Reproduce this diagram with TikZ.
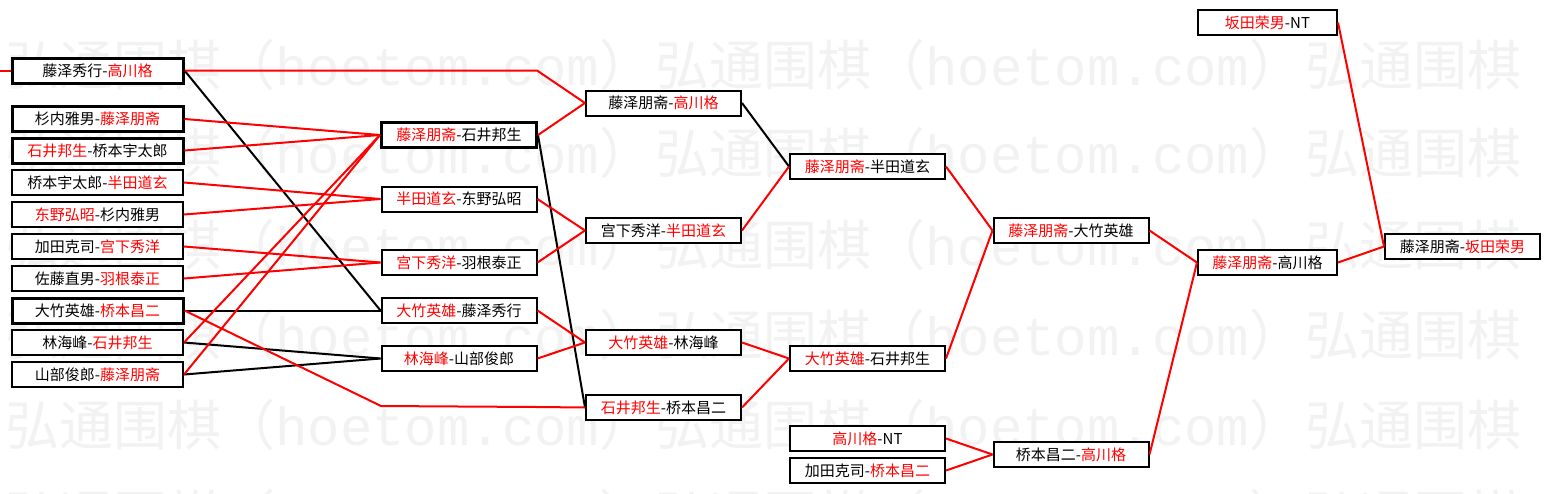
\documentclass[tikz,border=0pt]{standalone}
\usepackage{fontspec}
\setmainfont{Noto Sans CJK SC}
\newfontfamily\wmmono{Liberation Mono}
\newcommand{\rd}[1]{\textcolor{red}{#1}}
\begin{document}
\begin{tikzpicture}[x=1pt,y=-1pt,
  box/.style={draw=black,line width=2pt,fill=white,inner sep=0pt,minimum height=25pt,
    font=\fontsize{15}{15}\selectfont,text=black},
  thick box/.style={box,line width=3pt},
  w1/.style={minimum width=171pt},
  w2/.style={minimum width=155pt},
  w6/.style={minimum width=139pt},
  rl/.style={draw=red,line width=2pt},
  bl/.style={draw=black,line width=2pt},
  wm/.style={text=black!5,font=\fontsize{54}{54}\selectfont,anchor=west,inner sep=0pt}]
\useasboundingbox (0,0) rectangle (1550,493);
\fill[white] (0,0) rectangle (1550,493);
% watermark
\foreach \yy in {65,153,245,335,425,515}{
  \foreach \xx in {5,655,1305}{
    \node[wm] at (\xx,\yy) {弘通围棋（{\wmmono hoetom.com}）};
  }
}
% column 1
\node[thick box,w1] (c1a) at (97.5,70.5) {藤泽秀行-\rd{高川格}};
\node[thick box,w1] (c1b) at (97.5,119) {杉内雅男-\rd{藤泽朋斋}};
\node[thick box,w1] (c1c) at (97.5,150.5) {\rd{石井邦生}-桥本宇太郎};
\node[box,w1] (c1d) at (97.5,182.5) {桥本宇太郎-\rd{半田道玄}};
\node[box,w1] (c1e) at (97.5,214.5) {\rd{东野弘昭}-杉内雅男};
\node[box,w1] (c1f) at (97.5,246.5) {加田克司-\rd{宫下秀洋}};
\node[box,w1] (c1g) at (97.5,278.5) {佐藤直男-\rd{羽根泰正}};
\node[thick box,w1] (c1h) at (97.5,310.5) {大竹英雄-\rd{桥本昌二}};
\node[box,w1] (c1i) at (97.5,342.5) {林海峰-\rd{石井邦生}};
\node[box,w1] (c1j) at (97.5,374.5) {山部俊郎-\rd{藤泽朋斋}};
% column 2
\node[thick box,w2] (c2a) at (459,135) {\rd{藤泽朋斋}-石井邦生};
\node[box,w2] (c2b) at (459,199) {\rd{半田道玄}-东野弘昭};
\node[box,w2] (c2c) at (459,262.5) {\rd{宫下秀洋}-羽根泰正};
\node[box,w2] (c2d) at (459,310.5) {\rd{大竹英雄}-藤泽秀行};
\node[box,w2] (c2e) at (459,358.5) {\rd{林海峰}-山部俊郎};
% column 3
\node[box,w2] (c3a) at (663.5,103) {藤泽朋斋-\rd{高川格}};
\node[box,w2] (c3b) at (663.5,230.5) {宫下秀洋-\rd{半田道玄}};
\node[box,w2] (c3c) at (663.5,342.5) {\rd{大竹英雄}-林海峰};
\node[box,w2] (c3d) at (663.5,407.5) {\rd{石井邦生}-桥本昌二};
% column 4
\node[box,w2] (c4a) at (867.5,166.5) {\rd{藤泽朋斋}-半田道玄};
\node[box,w2] (c4b) at (867.5,358.5) {\rd{大竹英雄}-石井邦生};
\node[box,w2] (c4c) at (867.5,438.5) {\rd{高川格}-NT};
\node[box,w2] (c4d) at (867.5,470.5) {加田克司-\rd{桥本昌二}};
% column 5
\node[box,w2] (c5a) at (1071,230.5) {\rd{藤泽朋斋}-大竹英雄};
\node[box,w2] (c5b) at (1071,454.5) {桥本昌二-\rd{高川格}};
% column 6
\node[box,w6] (c6a) at (1267.5,22.5) {\rd{坂田荣男}-NT};
\node[box,w6] (c6b) at (1267.5,262.5) {\rd{藤泽朋斋}-高川格};
% column 7
\node[box,w2] (c7) at (1462.5,246.5) {藤泽朋斋-\rd{坂田荣男}};
% free-end and pass-through coordinates
\coordinate (L0) at (0,70.5);
\coordinate (by1a) at (381,70.5);
\coordinate (by1b) at (537,70.5);
\coordinate (by8a) at (381,406);
\coordinate (by8b) at (537,407);
% black connectors
\draw[bl] (c1a.east) -- (c2d.west);
\draw[bl] (c1h.east) -- (c2d.west);
\draw[bl] (c1i.east) -- (c2e.west);
\draw[bl] (c1j.east) -- (c2e.west);
\draw[bl] (c2a.east) -- (c3d.west);
\draw[bl] (c3a.east) -- (c4a.west);
% red connectors
\draw[rl] (L0) -- (c1a.west);
\draw[rl] (c1a.east) -- (by1a) -- (by1b) -- (c3a.west);
\draw[rl] (c1b.east) -- (c2a.west);
\draw[rl] (c1c.east) -- (c2a.west);
\draw[rl] (c1d.east) -- (c2b.west);
\draw[rl] (c1e.east) -- (c2b.west);
\draw[rl] (c1f.east) -- (c2c.west);
\draw[rl] (c1g.east) -- (c2c.west);
\draw[rl] (c1h.east) -- (by8a) -- (by8b) -- (c3d.west);
\draw[rl] (c1i.east) -- (c2a.west);
\draw[rl] (c1j.east) -- (c2a.west);
\draw[rl] (c2a.east) -- (c3a.west);
\draw[rl] (c2b.east) -- (c3b.west);
\draw[rl] (c2c.east) -- (c3b.west);
\draw[rl] (c2d.east) -- (c3c.west);
\draw[rl] (c2e.east) -- (c3c.west);
\draw[rl] (c3b.east) -- (c4a.west);
\draw[rl] (c3c.east) -- (c4b.west);
\draw[rl] (c3d.east) -- (c4b.west);
\draw[rl] (c4a.east) -- (c5a.west);
\draw[rl] (c4b.east) -- (c5a.west);
\draw[rl] (c4c.east) -- (c5b.west);
\draw[rl] (c4d.east) -- (c5b.west);
\draw[rl] (c5a.east) -- (c6b.west);
\draw[rl] (c5b.east) -- (c6b.west);
\draw[rl] (c6a.east) -- (c7.west);
\draw[rl] (c6b.east) -- (c7.west);
\end{tikzpicture}
\end{document}
